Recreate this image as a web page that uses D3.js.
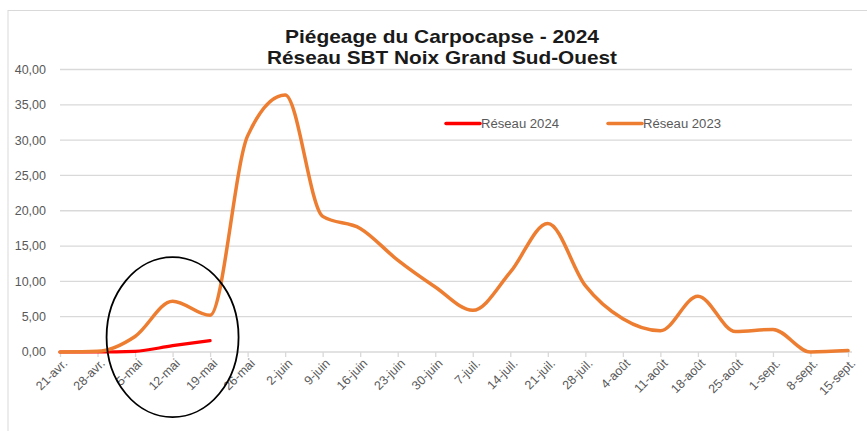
<!DOCTYPE html>
<html>
<head>
<meta charset="utf-8">
<script src="https://cdn.jsdelivr.net/npm/d3@7"></script>
<style>
  body { margin: 0; background: #fff; }
  text { font-family: "Liberation Sans", Arial, sans-serif; }
</style>
</head>
<body>
<svg id="chart" width="867" height="431"></svg>
<script>
var width = 867;
var height = 431;

// weeks on the x axis
var weeks = ["21-avr.", "28-avr.", "5-mai", "12-mai", "19-mai", "26-mai", "2-juin", "9-juin",
    "16-juin", "23-juin", "30-juin", "7-juil.", "14-juil.", "21-juil.", "28-juil.", "4-août",
    "11-août", "18-août", "25-août", "1-sept.", "8-sept.", "15-sept."];

// captures per trap
var reseau2023 = [0, 0.1, 2.2, 7.2, 5.2, 30.6, 36.4, 19.2, 17.5, 13.0, 9.2, 5.9, 11.3, 18.2,
    9.4, 4.7, 3.0, 7.9, 2.9, 3.2, 0, 0.2];
var reseau2024 = [0, 0, 0.1, 0.9, 1.6];

var yTicks = [0, 5, 10, 15, 20, 25, 30, 35, 40];

// circled zone (week, value at centre)
var highlight = ["12-mai", 2.1];

var svg = d3.select("#chart");

// chart frame
svg.append("rect")
    .attr("x", 8).attr("y", 10.5)
    .attr("width", 870).attr("height", 440)
    .attr("fill", "none")
    .attr("stroke", "#d9d9d9")
    .attr("stroke-width", 1);

var x = d3.scalePoint()
    .domain(weeks)
    .range([60, 848]);

var y = d3.scaleLinear()
    .domain([0, 40])
    .range([352, 69.5]);

var fmt = function (v) { return d3.format(".2f")(v).replace(".", ","); };

// gridlines
svg.append("g")
    .selectAll("line")
    .data(yTicks.filter(function (d) { return d > 0; }))
    .enter().append("line")
    .attr("x1", 60).attr("x2", 852)
    .attr("y1", function (d) { return y(d); })
    .attr("y2", function (d) { return y(d); })
    .attr("stroke", "#d9d9d9")
    .attr("stroke-width", 1.3);

// y labels
svg.append("g")
    .selectAll("text")
    .data(yTicks)
    .enter().append("text")
    .attr("x", 46)
    .attr("y", function (d) { return y(d); })
    .attr("dy", "0.35em")
    .attr("text-anchor", "end")
    .attr("font-size", "12.5px")
    .attr("fill", "#595959")
    .text(fmt);

// x axis
var xAxis = svg.append("g")
    .attr("transform", "translate(0," + y(0) + ")")
    .call(d3.axisBottom(x).tickSize(5).tickFormat(""));
xAxis.select(".domain").attr("d", "M60,0H852").attr("stroke", "#d9d9d9").attr("stroke-width", 1.3);
xAxis.selectAll(".tick line").attr("stroke", "#d9d9d9").attr("stroke-width", 1.3);

svg.append("g")
    .selectAll("text")
    .data(weeks)
    .enter().append("text")
    .attr("transform", function (d) { return "translate(" + (x(d) + 5) + "," + (y(0) + 9) + ") rotate(-45)"; })
    .attr("text-anchor", "end")
    .attr("dy", "0.35em")
    .attr("font-size", "12.5px")
    .attr("fill", "#595959")
    .text(function (d) { return d; });

var line = d3.line()
    .x(function (d, i) { return x(weeks[i]); })
    .y(function (d) { return y(d); })
    .curve(d3.curveMonotoneX);

svg.append("path")
    .datum(reseau2024)
    .attr("d", line)
    .attr("fill", "none")
    .attr("stroke", "#ff0000")
    .attr("stroke-width", 3.2)
    .attr("stroke-linecap", "round");

svg.append("path")
    .datum(reseau2023)
    .attr("d", line)
    .attr("fill", "none")
    .attr("stroke", "#ed7d31")
    .attr("stroke-width", 3.5)
    .attr("stroke-linecap", "round");

// legend
var legend = [["Réseau 2024", "#ff0000", 446], ["Réseau 2023", "#ed7d31", 608]];
var lg = svg.append("g").selectAll("g")
    .data(legend)
    .enter().append("g")
    .attr("transform", function (d) { return "translate(" + d[2] + ",123.5)"; });
lg.append("line")
    .attr("x1", 0).attr("x2", 34)
    .attr("stroke", function (d) { return d[1]; })
    .attr("stroke-width", 3.5)
    .attr("stroke-linecap", "round");
lg.append("text")
    .attr("x", 35)
    .attr("dy", "0.35em")
    .attr("font-size", "12.5px")
    .attr("textLength", 78)
    .attr("lengthAdjust", "spacingAndGlyphs")
    .attr("fill", "#595959")
    .text(function (d) { return d[0]; });

// title
var title = svg.append("text")
    .attr("text-anchor", "middle")
    .attr("font-weight", "bold")
    .attr("font-size", "19px")
    .attr("fill", "#1a1a1a");
title.append("tspan").attr("x", 442).attr("y", 42.5)
    .attr("textLength", 314).attr("lengthAdjust", "spacingAndGlyphs")
    .text("Piégeage du Carpocapse - 2024");
title.append("tspan").attr("x", 442).attr("y", 63.5)
    .attr("textLength", 350).attr("lengthAdjust", "spacingAndGlyphs")
    .text("Réseau SBT Noix Grand Sud-Ouest");

// hand drawn circle round May
svg.append("ellipse")
    .attr("cx", x(highlight[0]))
    .attr("cy", y(highlight[1]))
    .attr("rx", 66)
    .attr("ry", 80)
    .attr("fill", "none")
    .attr("stroke", "#000")
    .attr("stroke-width", 1.8);
</script>
</body>
</html>
